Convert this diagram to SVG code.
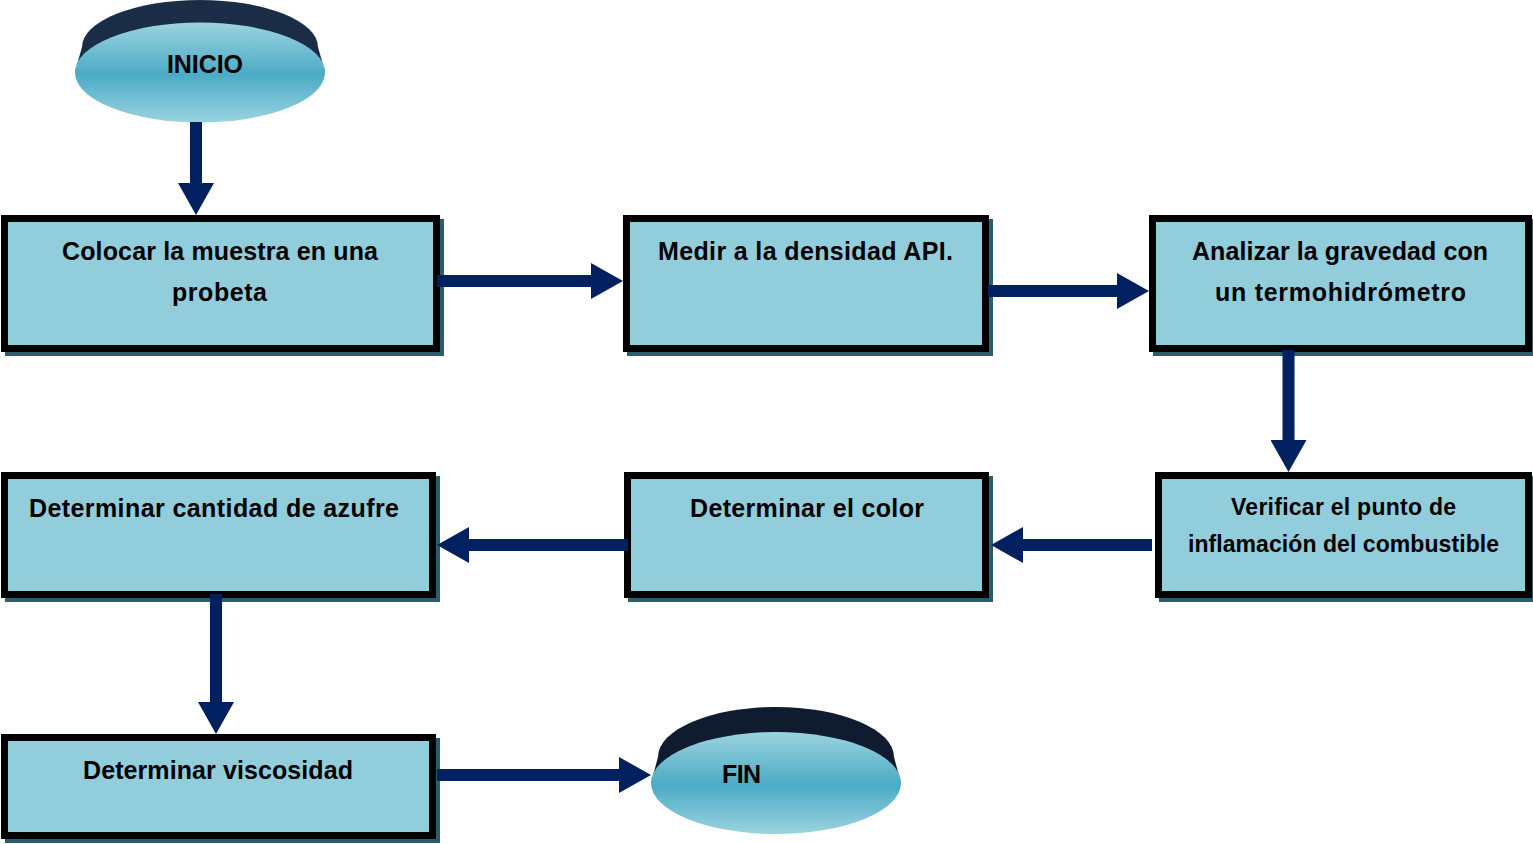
<svg xmlns="http://www.w3.org/2000/svg" width="1533" height="844" viewBox="0 0 1533 844">
<style>
.box{fill:#92cddc;stroke:#000;stroke-width:7}
.shadow{fill:#2b5e6c}
.t{font-family:"Liberation Sans",Arial,sans-serif;font-weight:bold;font-size:25px;fill:#000;text-anchor:middle}
.ts{font-size:23px}
.conn{stroke:#002060;stroke-width:12;fill:none;marker-end:url(#ah)}
</style>
<defs>
<marker id="ah" markerUnits="userSpaceOnUse" markerWidth="32" markerHeight="36" refX="12" refY="18" orient="auto" viewBox="0 0 32 36">
<path d="M0,0 L32,18 L0,36 Z" fill="#002060"/>
</marker>
<linearGradient id="cyl" x1="0" y1="0" x2="0" y2="1">
<stop offset="0" stop-color="#9bd3e0"/>
<stop offset="0.52" stop-color="#4babc5"/>
<stop offset="1" stop-color="#9bd3e0"/>
</linearGradient>
</defs>

<g id="inicio">
<ellipse cx="200" cy="47" rx="118" ry="47" fill="#1b2c46"/>
<polygon points="82,47 318,47 325,72 75,72" fill="#1b2c46"/>
<ellipse cx="200" cy="72.5" rx="125" ry="50" fill="url(#cyl)"/>
<text class="t" x="205" y="73" textLength="76">INICIO</text>
</g>

<g id="n1">
<rect class="shadow" x="5" y="219" width="439" height="137"/>
<rect class="box" x="4.5" y="218.5" width="432" height="130"/>
<text class="t" x="220" y="260" textLength="316">Colocar la muestra en una</text>
<text class="t" x="219.5" y="301" textLength="95">probeta</text>
</g>

<g id="n2">
<rect class="shadow" x="627" y="219" width="366" height="137"/>
<rect class="box" x="626.5" y="218.5" width="359" height="130"/>
<text class="t" x="805.5" y="260" textLength="295">Medir a la densidad API.</text>
</g>

<g id="n3">
<rect class="shadow" x="1153" y="219" width="383" height="137"/>
<rect class="box" x="1152.5" y="218.5" width="376" height="130"/>
<text class="t" x="1340" y="260" textLength="296">Analizar la gravedad con</text>
<text class="t" x="1340.5" y="301" textLength="251">un termohidrómetro</text>
</g>

<g id="n4">
<rect class="shadow" x="1159" y="476" width="377" height="126"/>
<rect class="box" x="1158.5" y="475.5" width="370" height="119"/>
<text class="t ts" x="1343.5" y="515" textLength="225">Verificar el punto de</text>
<text class="t ts" x="1343.5" y="552" textLength="311">inflamación del combustible</text>
</g>

<g id="n5">
<rect class="shadow" x="628" y="476" width="365" height="126"/>
<rect class="box" x="627.5" y="475.5" width="358" height="119"/>
<text class="t" x="807" y="517" textLength="234">Determinar el color</text>
</g>

<g id="n6">
<rect class="shadow" x="5" y="476" width="435" height="126"/>
<rect class="box" x="4.5" y="475.5" width="428" height="119"/>
<text class="t" x="214" y="517" textLength="370">Determinar cantidad de azufre</text>
</g>

<g id="n7">
<rect class="shadow" x="5" y="738" width="435" height="105"/>
<rect class="box" x="4.5" y="737.5" width="428" height="98"/>
<text class="t" x="218" y="779" textLength="270">Determinar viscosidad</text>
</g>

<g id="fin">
<ellipse cx="776" cy="757" rx="118" ry="50" fill="#0f1b2f"/>
<polygon points="658,757 894,757 901,783 651,783" fill="#0f1b2f"/>
<ellipse cx="776" cy="783" rx="125" ry="51" fill="url(#cyl)"/>
<text class="t" x="741.5" y="783" textLength="39">FIN</text>
</g>

<g id="connectors">
<line class="conn" x1="196" y1="122" x2="196" y2="195"/>
<line class="conn" x1="437" y1="281" x2="603" y2="281"/>
<line class="conn" x1="988" y1="291" x2="1129" y2="291"/>
<line class="conn" x1="1288.5" y1="350" x2="1288.5" y2="452"/>
<line class="conn" x1="1152" y1="545" x2="1011" y2="545"/>
<line class="conn" x1="628" y1="545" x2="457" y2="545"/>
<line class="conn" x1="216" y1="594" x2="216" y2="714"/>
<line class="conn" x1="437" y1="775" x2="631" y2="775"/>
</g>
</svg>
